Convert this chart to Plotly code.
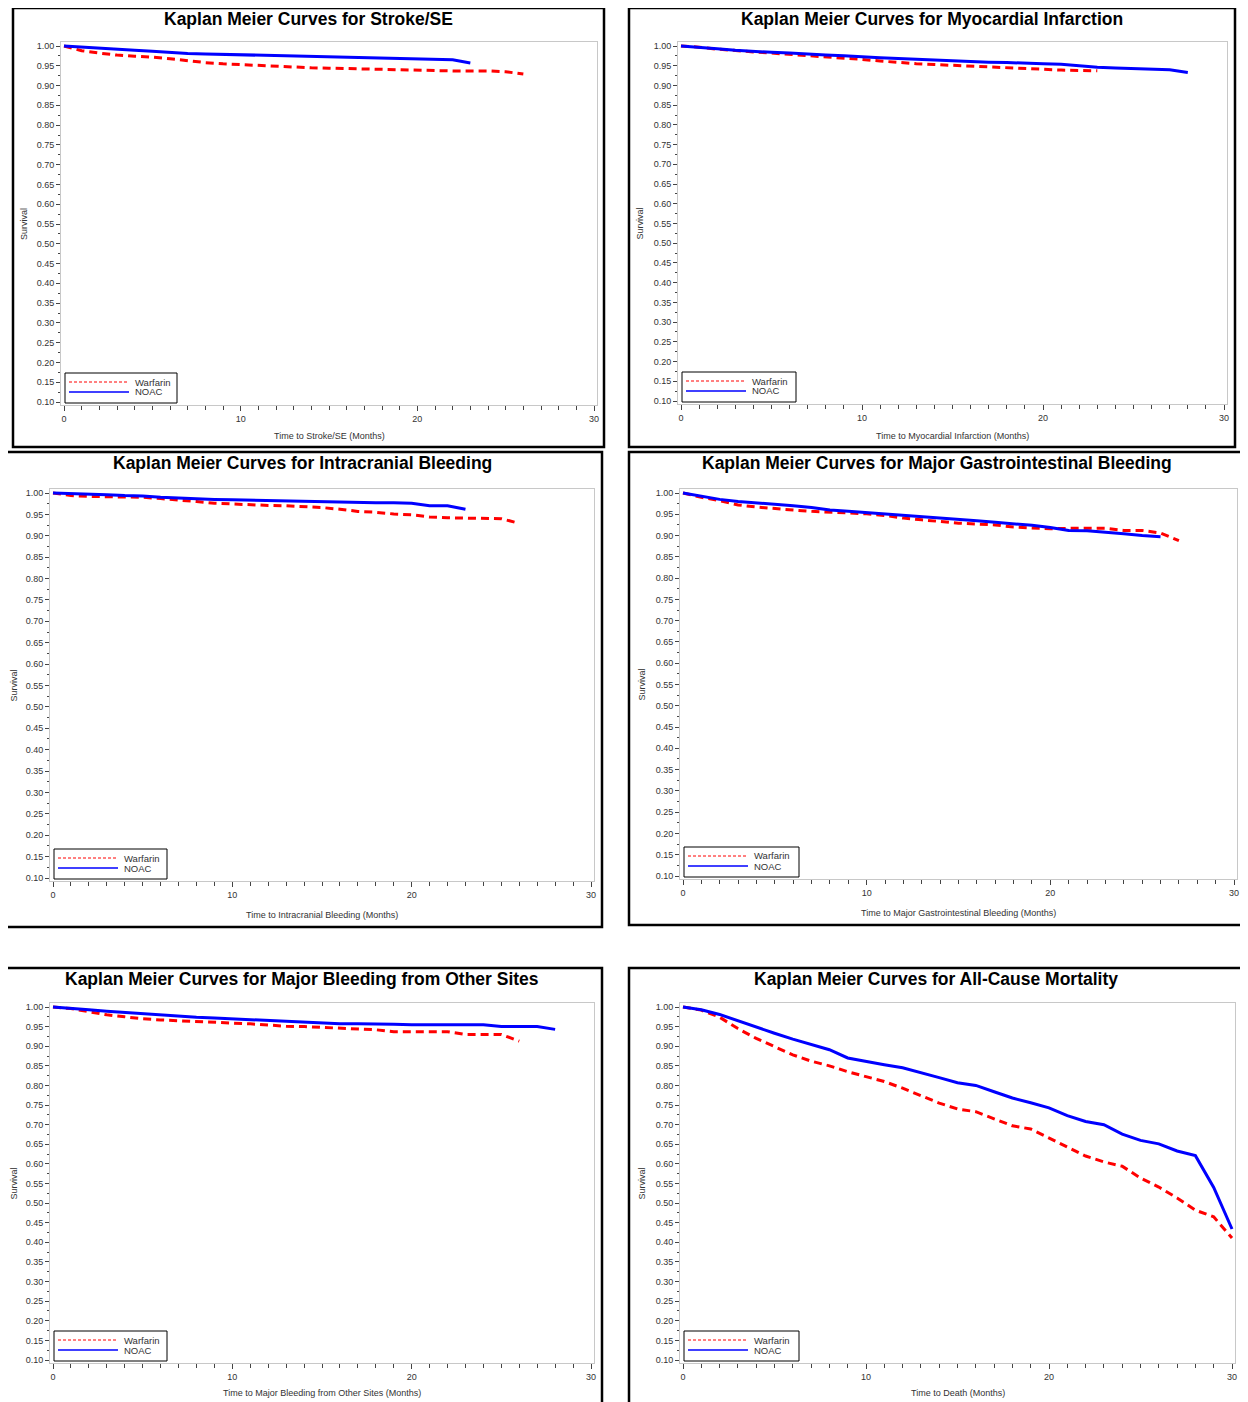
import plotly.graph_objects as go

# page body adds an 8px margin; the figure is sized to fit the 1248x1402 window
OFF = 8
W, H = 1248 - OFF, 1402 - OFF

# ---------------- data ----------------
titles = [
    "Kaplan Meier Curves for Stroke/SE",
    "Kaplan Meier Curves for Myocardial Infarction",
    "Kaplan Meier Curves for Intracranial Bleeding",
    "Kaplan Meier Curves for Major Gastrointestinal Bleeding",
    "Kaplan Meier Curves for Major Bleeding from Other Sites",
    "Kaplan Meier Curves for All-Cause Mortality",
]
xtitles = [
    "Time to Stroke/SE (Months)",
    "Time to Myocardial Infarction (Months)",
    "Time to Intracranial Bleeding (Months)",
    "Time to Major Gastrointestinal Bleeding (Months)",
    "Time to Major Bleeding from Other Sites (Months)",
    "Time to Death (Months)",
]
series_names = ["Warfarin", "NOAC"]

stroke_warf = [1.0, 0.988, 0.982, 0.977, 0.974, 0.972, 0.968, 0.963, 0.958, 0.955, 0.953, 0.951, 0.949,
               0.946, 0.945, 0.944, 0.943, 0.942, 0.941, 0.940, 0.938, 0.937, 0.937, 0.937, 0.937, 0.935, 0.929]
stroke_noac = [1.0, 0.997, 0.994, 0.991, 0.989, 0.987, 0.984, 0.981, 0.980, 0.979, 0.978, 0.976, 0.975,
               0.974, 0.973, 0.972, 0.971, 0.970, 0.969, 0.968, 0.967, 0.966, 0.965, 0.957]

mi_warf = [1.0, 0.997, 0.992, 0.988, 0.985, 0.982, 0.979, 0.976, 0.973, 0.970, 0.966, 0.962, 0.958,
           0.955, 0.953, 0.951, 0.948, 0.946, 0.944, 0.942, 0.940, 0.939, 0.938, 0.937]
mi_noac = [1.0, 0.997, 0.993, 0.989, 0.986, 0.984, 0.982, 0.979, 0.977, 0.975, 0.972, 0.970, 0.968,
           0.966, 0.964, 0.962, 0.960, 0.959, 0.958, 0.956, 0.955, 0.954, 0.950, 0.946, 0.944, 0.943,
           0.941, 0.940, 0.933]

ich_warf = [1.0, 0.994, 0.992, 0.991, 0.991, 0.990, 0.987, 0.984, 0.980, 0.976, 0.974, 0.973, 0.971,
            0.970, 0.968, 0.966, 0.962, 0.957, 0.955, 0.951, 0.949, 0.944, 0.942, 0.941, 0.941, 0.940, 0.929]
ich_noac = [1.0, 0.999, 0.998, 0.996, 0.994, 0.993, 0.990, 0.988, 0.986, 0.985, 0.984, 0.983, 0.982,
            0.981, 0.980, 0.979, 0.978, 0.977, 0.977, 0.977, 0.976, 0.970, 0.970, 0.962]

gi_warf = [1.0, 0.990, 0.982, 0.972, 0.967, 0.963, 0.960, 0.957, 0.955, 0.953, 0.951, 0.947, 0.941,
           0.937, 0.933, 0.929, 0.927, 0.925, 0.920, 0.918, 0.916, 0.917, 0.917, 0.917, 0.912, 0.912,
           0.906, 0.888]
gi_noac = [1.0, 0.993, 0.985, 0.980, 0.977, 0.974, 0.970, 0.966, 0.960, 0.957, 0.954, 0.951, 0.948,
           0.945, 0.942, 0.938, 0.935, 0.931, 0.928, 0.924, 0.919, 0.912, 0.911, 0.908, 0.904, 0.900, 0.897]

oth_warf = [1.0, 0.996, 0.988, 0.980, 0.975, 0.970, 0.967, 0.965, 0.963, 0.962, 0.960, 0.957, 0.954,
            0.951, 0.950, 0.948, 0.945, 0.943, 0.942, 0.937, 0.937, 0.937, 0.937, 0.930, 0.930, 0.930, 0.913]
oth_noac = [1.0, 0.997, 0.993, 0.989, 0.986, 0.983, 0.980, 0.976, 0.974, 0.972, 0.970, 0.967, 0.965,
            0.963, 0.961, 0.958, 0.957, 0.957, 0.957, 0.956, 0.955, 0.955, 0.955, 0.955, 0.955, 0.950,
            0.950, 0.950, 0.943]

death_warf = [1.0, 0.992, 0.974, 0.945, 0.920, 0.900, 0.878, 0.862, 0.850, 0.835, 0.823, 0.810, 0.793,
              0.775, 0.755, 0.740, 0.733, 0.715, 0.697, 0.689, 0.666, 0.643, 0.620, 0.605, 0.594, 0.564,
              0.541, 0.513, 0.482, 0.465, 0.411]
death_noac = [1.0, 0.993, 0.981, 0.965, 0.947, 0.933, 0.918, 0.905, 0.891, 0.870, 0.861, 0.853, 0.845,
              0.833, 0.820, 0.807, 0.800, 0.784, 0.768, 0.756, 0.743, 0.723, 0.708, 0.700, 0.676, 0.660,
              0.651, 0.633, 0.621, 0.540, 0.434]

warfarin = [stroke_warf, mi_warf, ich_warf, gi_warf, oth_warf, death_warf]
noac = [stroke_noac, mi_noac, ich_noac, gi_noac, oth_noac, death_noac]

y_ticks = [round(0.10 + 0.05 * i, 2) for i in range(19)]
x_ticks = [0, 10, 20, 30]

# ---------------- layout geometry (screen pixels) ----------------
# tick 0 x, tick 30 x, tick 1.00 y, tick 0.10 y
axes_px = [
    (64, 594, 46, 402),
    (681, 1224, 46, 401),
    (53, 591, 493, 878),
    (683, 1234, 493, 876),
    (53, 591, 1007, 1360),
    (683, 1232, 1007, 1360),
]
boxes_px = [
    (13, 8, 604, 447),
    (629, 8, 1235, 447),
    (2, 452, 602, 927),
    (629, 452, 1245, 925),
    (2, 968, 602, 1420),
    (629, 968, 1243, 1420),
]
xtitle_y = [436, 436, 915, 913, 1393, 1393]
ytitle_x = [24, 640, 13, 641, 13, 641]
legend_w = [112, 114, 113, 115, 113, 115]

RED = "#ff0000"
BLUE = "#0000ff"
FONT = "Arial, Liberation Sans, sans-serif"

def px(x):
    return (x - OFF) / W

def py(y):
    return 1 - (y - OFF) / H

fig = go.Figure()
layout = dict(
    width=W, height=H, autosize=False,
    margin=dict(l=0, r=0, t=0, b=0),
    paper_bgcolor="white", plot_bgcolor="white",
    showlegend=False,
    font=dict(family=FONT, size=9, color="#333333"),
)
annotations = []
shapes = []

for i in range(6):
    n = i + 1
    xa = "x" if n == 1 else f"x{n}"
    ya = "y" if n == 1 else f"y{n}"
    x0, x30, y1, y01 = axes_px[i]
    ppx = (x30 - x0) / 30.0
    ppy = (y01 - y1) / 0.9
    dom_x = [px(x0 - 3), px(x30 + 3)]
    dom_y = [py(y01 + 3), py(y1 - 4)]
    xr = [-3 / ppx, 30 + 3 / ppx]
    yr = [0.10 - 3 / ppy, 1.0 + 4 / ppy]

    w = warfarin[i]
    v = noac[i]
    fig.add_trace(go.Scatter(x=list(range(len(w))), y=w, mode="lines", name=series_names[0],
                             line=dict(color=RED, width=3, dash="8px,5px"),
                             xaxis=xa, yaxis=ya))
    fig.add_trace(go.Scatter(x=list(range(len(v))), y=v, mode="lines", name=series_names[1],
                             line=dict(color=BLUE, width=3),
                             xaxis=xa, yaxis=ya))

    axis_common = dict(
        showgrid=False, zeroline=False, showline=True, mirror=True,
        linecolor="#c8c8c8", linewidth=1, ticks="outside", tickcolor="#444444",
        tickfont=dict(family=FONT, size=9, color="#333333"), automargin=False,
        fixedrange=True,
    )
    layout["xaxis" if n == 1 else f"xaxis{n}"] = dict(
        axis_common, domain=dom_x, range=xr, tickmode="array", tickvals=x_ticks,
        ticklen=5, anchor=ya,
        minor=dict(dtick=1, tick0=0, ticks="outside", ticklen=4, tickcolor="#444444", showgrid=False),
    )
    layout["yaxis" if n == 1 else f"yaxis{n}"] = dict(
        axis_common, domain=dom_y, range=yr, tickmode="array", tickvals=y_ticks,
        tickformat=".2f", ticklen=4, anchor=xa,
        minor=dict(dtick=0.025, tick0=0.1, ticks="outside", ticklen=2, tickcolor="#444444", showgrid=False),
    )

    # legend box (bottom-left corner of the plot area)
    lx0, ly1 = x0 + 1, y01 + 1
    lx1, ly0 = lx0 + legend_w[i], ly1 - 30
    shapes.append(dict(type="rect", xref="paper", yref="paper",
                       x0=px(lx0), x1=px(lx1), y0=py(ly1), y1=py(ly0),
                       line=dict(color="#000000", width=1), fillcolor="white", layer="above"))
    for k, (col, dash) in enumerate([(RED, "3px,2px"), (BLUE, "solid")]):
        yy = ly0 + 9 + 10 * k
        shapes.append(dict(type="line", xref="paper", yref="paper",
                           x0=px(lx0 + 4), x1=px(lx0 + 64), y0=py(yy), y1=py(yy),
                           line=dict(color=col, width=1 if k == 0 else 1.3, dash=dash), layer="above"))
        annotations.append(dict(text=series_names[k], xref="paper", yref="paper",
                                x=px(lx0 + 68), y=py(yy), xanchor="left", yanchor="middle",
                                showarrow=False, font=dict(family=FONT, size=9.5, color="#333333")))

    bx0, by0, bx1, by1 = boxes_px[i]
    shapes.append(dict(type="rect", xref="paper", yref="paper",
                       x0=px(bx0), x1=px(bx1), y0=py(by1), y1=py(by0),
                       line=dict(color="#000000", width=2.5), fillcolor="rgba(0,0,0,0)"))
    annotations.append(dict(text=f"<b>{titles[i]}</b>", xref="paper", yref="paper",
                            x=px((bx0 + bx1) / 2), y=py(by0 + 11), xanchor="center", yanchor="middle",
                            showarrow=False, font=dict(family=FONT, size=17.5, color="#000000")))
    annotations.append(dict(text=xtitles[i], xref="paper", yref="paper",
                            x=px((x0 + x30) / 2), y=py(xtitle_y[i]), xanchor="center", yanchor="middle",
                            showarrow=False, font=dict(family=FONT, size=9, color="#333333")))
    annotations.append(dict(text="Survival", xref="paper", yref="paper", textangle=-90,
                            x=px(ytitle_x[i]), y=py((y1 + y01) / 2), xanchor="center", yanchor="middle",
                            showarrow=False, font=dict(family=FONT, size=9, color="#333333")))

layout["annotations"] = annotations
layout["shapes"] = shapes
fig.update_layout(**layout)
fig.write_html("out.html")
